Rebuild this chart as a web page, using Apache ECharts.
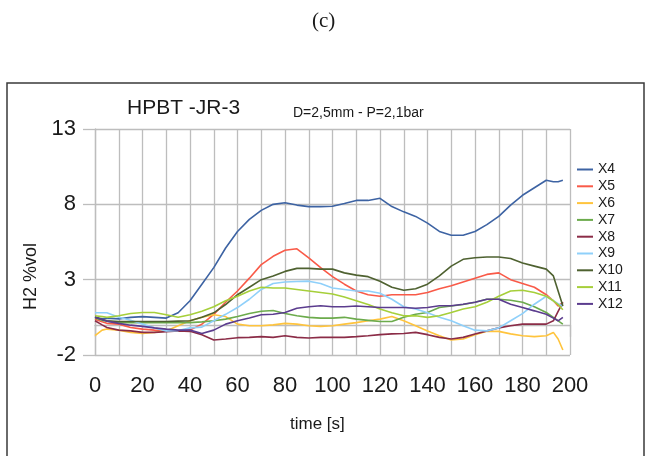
<!DOCTYPE html>
<html>
<head>
<meta charset="utf-8">
<script src="https://cdn.jsdelivr.net/npm/echarts@6/dist/echarts.min.js"></script>
<style>
html,body{margin:0;padding:0;background:#fff;}
#chart{width:647px;height:456px;}
</style>
</head>
<body>
<div id="chart"></div>
<script>
var times = [0,3,5,10,15,20,25,30,35,40,45,50,55,60,65,70,75,80,85,90,95,100,105,110,115,120,125,130,135,140,145,150,155,160,165,170,175,180,185,190,193,195,197];
var X4  = [0.5,0.4,0.45,0.4,0.5,0.55,0.5,0.45,0.8,1.6,2.7,3.8,5.1,6.2,7.0,7.6,8.0,8.1,7.95,7.85,7.85,7.87,8.05,8.26,8.26,8.4,7.85,7.5,7.2,6.75,6.2,5.95,5.95,6.2,6.65,7.2,7.95,8.6,9.1,9.6,9.5,9.5,9.6];
var X5  = [0.38,0.2,0.1,0.05,-0.17,-0.28,-0.35,-0.4,-0.4,-0.35,0.05,0.7,1.5,2.25,3.1,4.0,4.55,4.95,5.05,4.45,3.8,3.2,2.7,2.25,2.0,1.9,2.0,2.0,2.0,2.15,2.4,2.6,2.85,3.1,3.35,3.45,3.0,2.75,2.5,2.0,1.6,1.25,1.5];
var X6  = [-0.72,-0.35,-0.28,-0.35,-0.5,-0.57,-0.5,-0.4,-0.06,0.27,0.5,0.67,0.55,0.05,-0.06,-0.06,0.0,0.1,0.05,-0.06,-0.1,-0.06,0.05,0.15,0.27,0.38,0.55,0.27,-0.06,-0.4,-0.72,-1.0,-0.94,-0.65,-0.43,-0.43,-0.6,-0.72,-0.78,-0.72,-0.5,-0.94,-1.67];
var X7  = [0.45,0.3,0.25,0.15,0.15,0.15,0.15,0.15,0.15,0.15,0.2,0.27,0.38,0.55,0.75,0.9,0.95,0.75,0.6,0.5,0.45,0.45,0.5,0.38,0.3,0.22,0.22,0.5,0.7,0.82,1.15,1.25,1.35,1.5,1.7,1.7,1.63,1.5,1.2,0.82,0.5,0.27,0.05];
var X8  = [0.27,0.0,-0.17,-0.35,-0.4,-0.5,-0.5,-0.45,-0.4,-0.43,-0.65,-1.0,-0.94,-0.85,-0.83,-0.78,-0.83,-0.72,-0.83,-0.87,-0.83,-0.83,-0.83,-0.78,-0.72,-0.65,-0.6,-0.57,-0.5,-0.65,-0.83,-0.94,-0.83,-0.6,-0.4,-0.2,-0.06,0.05,0.05,0.05,0.27,0.9,1.5];
var X9  = [0.8,0.8,0.8,0.5,0.3,0.05,-0.2,-0.4,-0.38,-0.2,-0.15,0.27,0.7,1.15,1.7,2.35,2.75,2.85,2.88,2.9,2.75,2.45,2.35,2.25,2.25,2.1,1.7,1.2,1.05,0.8,0.5,0.27,-0.06,-0.35,-0.4,-0.2,0.27,0.75,1.37,1.9,1.6,1.4,1.25];
var X10 = [0.5,0.35,0.27,0.22,0.22,0.22,0.22,0.22,0.25,0.27,0.5,0.8,1.35,2.0,2.5,3.0,3.25,3.55,3.75,3.75,3.7,3.7,3.45,3.3,3.2,2.9,2.5,2.3,2.4,2.7,3.25,3.9,4.35,4.45,4.5,4.5,4.4,4.1,3.9,3.7,3.25,2.25,1.25];
var X11 = [0.6,0.55,0.5,0.6,0.75,0.82,0.82,0.67,0.5,0.67,0.9,1.2,1.6,1.9,2.25,2.5,2.45,2.45,2.35,2.25,2.15,2.05,1.85,1.6,1.35,1.05,0.8,0.6,0.6,0.5,0.6,0.82,1.05,1.2,1.5,1.9,2.25,2.3,2.15,1.9,1.6,1.35,1.0];
var X12 = [0.5,0.35,0.25,0.1,-0.02,-0.1,-0.2,-0.28,-0.35,-0.35,-0.57,-0.35,0.05,0.27,0.45,0.67,0.7,0.82,1.1,1.2,1.27,1.2,1.2,1.25,1.2,1.15,1.15,1.15,1.1,1.15,1.27,1.27,1.37,1.5,1.7,1.7,1.37,1.15,0.93,0.7,0.45,0.27,0.5];

var seriesNames = ['X4','X5','X6','X7','X8','X9','X10','X11','X12'];
var seriesValues = [X4,X5,X6,X7,X8,X9,X10,X11,X12];
var colors = ['#3d63a3','#f95a48','#ffc43d','#6cab4c','#8b2c47','#8fd0fa','#4e6130','#a6cf3a','#5b3c8e'];
var xTicks = {min:0, max:200, step:20};
var yTicks = {min:-2, max:13, step:5};

var FONT = '"Liberation Sans", Arial, sans-serif';
var gridColor = '#bdbdbd';

var chart = echarts.init(document.getElementById('chart'), null, {renderer:'canvas'});
var series = seriesNames.map(function(name, i){
  return {
    name: name,
    type: 'line',
    showSymbol: false,
    symbol: 'none',
    smooth: false,
    animation: false,
    lineStyle: {width: 1.6, color: colors[i]},
    itemStyle: {color: colors[i]},
    data: times.map(function(t, j){ return [t, seriesValues[i][j]]; })
  };
});

chart.setOption({
  animation: false,
  backgroundColor: '#fff',
  grid: {left: 95, right: 77, top: 129, bottom: 101, containLabel: false},
  xAxis: {
    type: 'value', min: xTicks.min, max: xTicks.max, interval: xTicks.step,
    axisLine: {show: true, lineStyle: {color: gridColor, width: 1.3}},
    axisTick: {show: true, length: 12, lineStyle: {color: gridColor, width: 1.3}},
    axisLabel: {fontSize: 22, color: '#1a1a1a', margin: 20, fontFamily: FONT},
    splitLine: {show: true, lineStyle: {color: gridColor, width: 1.3}},
    minorTick: {show: false, splitNumber: 2},
    minorSplitLine: {show: true, lineStyle: {color: gridColor, width: 1.3}}
  },
  yAxis: {
    type: 'value', min: yTicks.min, max: yTicks.max, interval: yTicks.step,
    axisLine: {show: true, lineStyle: {color: gridColor, width: 1.3}},
    axisTick: {show: true, length: 12, lineStyle: {color: gridColor, width: 1.3}},
    axisLabel: {fontSize: 22, color: '#1a1a1a', margin: 19, fontFamily: FONT},
    splitLine: {show: true, lineStyle: {color: gridColor, width: 1.3}}
  },
  legend: {
    orient: 'vertical',
    left: 577, top: 162, padding: 0,
    icon: 'rect', itemWidth: 16, itemHeight: 2, itemGap: 1.8,
    textStyle: {fontSize: 14, color: '#1a1a1a', fontFamily: FONT, lineHeight: 15},
    data: seriesNames
  },
  graphic: [
    {type: 'rect', silent: true, z: 0, shape: {x: 7, y: 83, width: 637, height: 400},
     style: {fill: 'none', stroke: '#3a3a3a', lineWidth: 1.5}},
    {type: 'text', left: 312, top: 11, style: {text: '(c)', font: '21px "Liberation Serif", "DejaVu Serif", serif', fill: '#1a1a1a'}},
    {type: 'text', left: 127, top: 98, style: {text: 'HPBT -JR-3', font: '21px ' + FONT, fill: '#1a1a1a'}},
    {type: 'text', left: 293, top: 106, style: {text: 'D=2,5mm - P=2,1bar', font: '14px ' + FONT, fill: '#1a1a1a'}},
    {type: 'text', left: 290, top: 416, style: {text: 'time [s]', font: '17px ' + FONT, fill: '#1a1a1a'}},
    {type: 'text', x: 22, y: 310, rotation: Math.PI/2, style: {text: 'H2 %vol', font: '18px ' + FONT, fill: '#1a1a1a'}}
  ],
  series: series
});
</script>
</body>
</html>
